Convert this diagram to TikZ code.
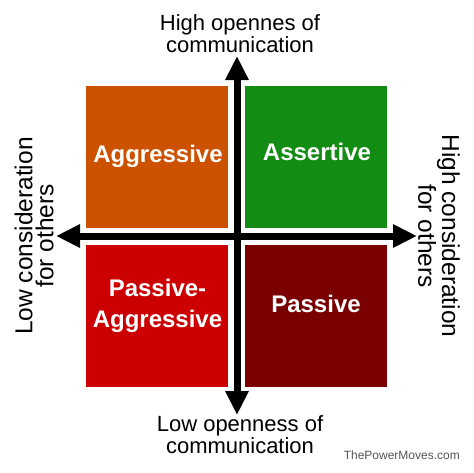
\documentclass[tikz,border=0pt]{standalone}
\usepackage{fontspec}
\setmainfont{Liberation Sans}
\usetikzlibrary{arrows.meta}
\definecolor{cagg}{RGB}{204,82,0}
\definecolor{cass}{RGB}{19,140,19}
\definecolor{cpa}{RGB}{204,0,0}
\definecolor{cpas}{RGB}{122,0,0}
\definecolor{wm}{RGB}{85,85,85}
\begin{document}
\begin{tikzpicture}[x=1pt,y=-1pt,
  quad/.style={minimum width=142pt,minimum height=142pt,inner sep=0pt,anchor=north west},
  qlab/.style={text=white,font=\fontsize{24}{31}\selectfont\bfseries,align=center,inner sep=0pt},
  axis/.style={line width=7pt,-{Triangle[width=22pt,length=24pt]}},
  lab/.style={font=\fontsize{22}{20}\selectfont,align=center,inner sep=0pt},
  slab/.style={font=\fontsize{24.5}{21}\selectfont,align=center,inner sep=0pt}]
\useasboundingbox[fill=white] (0,0) rectangle (474,472);
\node[quad,fill=cagg] (agg) at (86,86) {};
\node[quad,fill=cass] (ass) at (245,86) {};
\node[quad,fill=cpa] (pa) at (86,245) {};
\node[quad,fill=cpas] (pas) at (245,245) {};
\node[qlab,anchor=base] (aggl) at (158,162) {Aggressive};
\node[qlab,anchor=base] (assl) at (317,160) {Assertive};
\node[qlab] (pal) at (157.5,306) {Passive-\\Aggressive};
\node[qlab,anchor=base] (pasl) at (316,312) {Passive};
\coordinate (c) at (237,236);
\coordinate (top) at (237,56);
\coordinate (bot) at (237,415);
\coordinate (lft) at (56,236);
\coordinate (rgt) at (417,236);
\draw[axis] (c) -- (top);
\draw[axis] (c) -- (bot);
\draw[axis] (c) -- (lft);
\draw[axis] (c) -- (rgt);
\node[lab] (tl) at (240,33.5) {High opennes of\\communication};
\node[lab] (bl) at (240,434.5) {Low openness of\\communication};
\node[slab,rotate=90] (ll) at (34,236) {Low consideration\\for others};
\node[slab,rotate=-90] (rl) at (439,236) {High consideration\\for others};
\node[font=\fontsize{12}{12}\selectfont,text=wm,anchor=base east,inner sep=0pt] (wmk) at (460,459) {ThePowerMoves.com};
\end{tikzpicture}
\end{document}
